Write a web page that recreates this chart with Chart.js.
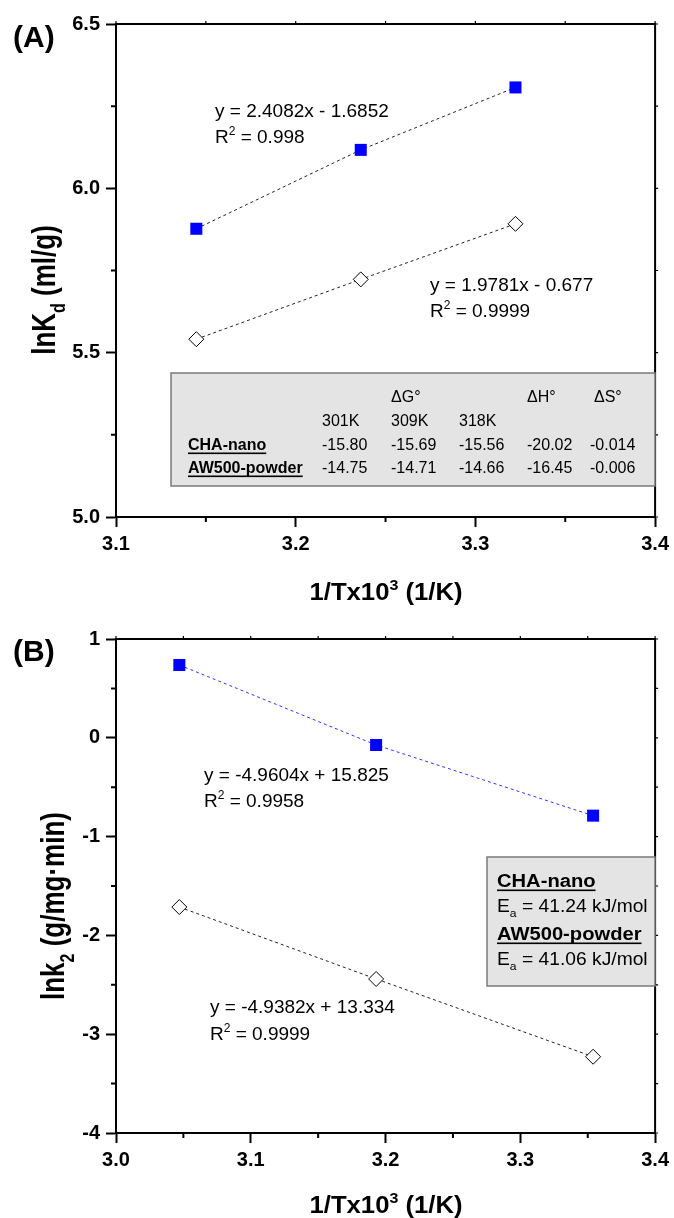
<!DOCTYPE html>
<html lang="en">
<head>
<meta charset="UTF-8" />
<title>lnKd / lnk2 vs 1/T</title>
<script src="https://cdn.jsdelivr.net/npm/chart.js"></script>
<style>
  body { margin: 0; background: #fff; }
  .panel { position: absolute; left: 0; width: 674px; height: 609px; }
  #panelA { top: 0; }
  #panelB { top: 609px; }
</style>
</head>
<body>
<div class="panel" id="panelA"><canvas id="graficoA"></canvas></div>
<div class="panel" id="panelB"><canvas id="graficoB"></canvas></div>

<script>
  // (A) lnKd against 1/T x 10^3
  const invTA = [3.1447, 3.2362, 3.3223];
  const lnKdCha = [5.877, 6.117, 6.307];
  const lnKdAw = [5.541, 5.723, 5.892];
  const xTicksA = [3.1, 3.2, 3.3, 3.4];
  const xMinorA = [3.15, 3.25, 3.35];
  const yTicksA = [5.0, 5.5, 6.0, 6.5];
  const yMinorA = [5.25, 5.75, 6.25];

  // (B) lnk2 against 1/T x 10^3
  const invTB = [3.047, 3.193, 3.354];
  const lnk2Cha = [0.737, -0.073, -0.788];
  const lnk2Aw = [-1.713, -2.441, -3.228];
  const xTicksB = [3.0, 3.1, 3.2, 3.3, 3.4];
  const xMinorB = [3.05, 3.15, 3.25, 3.35];
  const yTicksB = [-4, -3, -2, -1, 0, 1];
  const yMinorB = [-3.5, -2.5, -1.5, -0.5, 0.5];

  // fit equations and tables
  const fitA = [['y = 2.4082x - 1.6852', '0.998'], ['y = 1.9781x - 0.677', '0.9999']];
  const fitB = [['y = -4.9604x + 15.825', '0.9958'], ['y = -4.9382x + 13.334', '0.9999']];
  const tempCols = ['301K', '309K', '318K'];
  const thermoRows = [
    ['CHA-nano', '-15.80', '-15.69', '-15.56', '-20.02', '-0.014'],
    ['AW500-powder', '-14.75', '-14.71', '-14.66', '-16.45', '-0.006']
  ];
  const eaRows = [['CHA-nano', '41.24'], ['AW500-powder', '41.06']];

  const FAM = '"Liberation Sans", Arial, sans-serif';

  // text with sub/superscripts, optional stretch and rotation
  function rich(ctx, x, y, parts, o) {
    const w = o.bold ? 'bold ' : '';
    const fontOf = k => w + (k ? Math.round(o.size * 0.62) : o.size) + 'px ' + FAM;
    ctx.save();
    ctx.translate(x, y);
    if (o.rot) ctx.rotate(o.rot);
    ctx.scale(o.sx || 1, o.sy || 1);
    ctx.fillStyle = '#000';
    ctx.textAlign = 'left';
    ctx.textBaseline = 'alphabetic';
    let total = 0;
    parts.forEach(([t, k]) => { ctx.font = fontOf(k); total += ctx.measureText(t).width; });
    let cx = o.center ? -total / 2 : 0;
    parts.forEach(([t, k]) => {
      ctx.font = fontOf(k);
      const dy = k === 'sup' ? -o.size * 0.42 : k === 'sub' ? o.size * 0.3 : 0;
      ctx.fillText(t, cx, dy);
      const tw = ctx.measureText(t).width;
      if (o.underline) ctx.fillRect(cx, 2.5, tw, 1.6);
      cx += tw;
    });
    ctx.restore();
  }

  function frameAndTicks(chart, xMinor, yMinor, xMajor, yMajor) {
    const { ctx, chartArea: a, scales: { x, y } } = chart;
    ctx.save();
    ctx.strokeStyle = '#000';
    ctx.lineWidth = 2;
    ctx.beginPath();
    ctx.moveTo(a.left, a.top); ctx.lineTo(a.right, a.top); ctx.lineTo(a.right, a.bottom);
    ctx.stroke();
    ctx.beginPath();
    xMinor.forEach(v => { const p = x.getPixelForValue(v); ctx.moveTo(p, a.bottom); ctx.lineTo(p, a.bottom + 5); });
    yMinor.forEach(v => { const p = y.getPixelForValue(v); ctx.moveTo(a.left, p); ctx.lineTo(a.left - 5, p); });
    ctx.stroke();
    ctx.lineWidth = 1.2;
    ctx.beginPath();
    xMajor.concat(xMinor).forEach(v => { const p = x.getPixelForValue(v); ctx.moveTo(p, a.top); ctx.lineTo(p, a.top - 3); });
    yMajor.concat(yMinor).forEach(v => { const p = y.getPixelForValue(v); ctx.moveTo(a.right, p); ctx.lineTo(a.right + 3, p); });
    ctx.stroke();
    ctx.restore();
  }

  function box(ctx, x, y, w, h) {
    ctx.save();
    ctx.fillStyle = '#e4e4e4';
    ctx.strokeStyle = '#7a7a7a';
    ctx.lineWidth = 1.5;
    ctx.fillRect(x, y, w, h);
    ctx.strokeRect(x, y, w, h);
    ctx.restore();
  }

  function axisOpts(min, max, ticks, fmt, isX, size) {
    return {
      type: 'linear', min, max,
      afterBuildTicks: s => { s.ticks = ticks.map(v => ({ value: v })); },
      afterFit: s => { if (isX) s.height = size; else s.width = size; },
      grid: { display: true, drawOnChartArea: false, drawTicks: true, tickLength: 10, tickWidth: 2, tickColor: '#000' },
      border: { display: true, color: '#000', width: 2 },
      ticks: {
        color: '#000', autoSkip: false, maxRotation: 0, padding: isX ? 5 : 6,
        font: { family: FAM, size: 20, weight: 'bold' },
        callback: fmt
      }
    };
  }

  const fixed1 = v => Number(v).toFixed(1);
  const plain = v => String(Math.round(v));

  const diamond = { pointStyle: 'rectRot', pointRadius: 7.5, pointBackgroundColor: '#fff', pointBorderColor: '#000', pointBorderWidth: 1 };
  const square = { pointStyle: 'rect', pointRadius: 8.5, pointBackgroundColor: '#0000ff', pointBorderColor: '#0000ff', pointBorderWidth: 0 };

  const baseOpts = {
    responsive: true, maintainAspectRatio: false, animation: false,
    plugins: { legend: { display: false }, tooltip: { enabled: false } }
  };

  // ---------- panel A ----------
  const decorA = {
    id: 'decorA',
    afterDraw(chart) {
      const ctx = chart.ctx;
      frameAndTicks(chart, xMinorA, yMinorA, xTicksA, yTicksA);
      rich(ctx, 13, 47, [['(A)', '']], { size: 30, bold: true });
      rich(ctx, 55, 290, [['lnK', ''], ['d', 'sub'], [' (ml/g)', '']], { size: 26, bold: true, rot: -Math.PI / 2, center: true, sy: 1.25 });
      rich(ctx, 386, 600, [['1/Tx10', ''], ['3', 'sup'], [' (1/K)', '']], { size: 24, bold: true, center: true, sx: 1.07 });
      rich(ctx, 215, 117, [[fitA[0][0], '']], { size: 19 });
      rich(ctx, 215, 143, [['R', ''], ['2', 'sup'], [' = ' + fitA[0][1], '']], { size: 19 });
      rich(ctx, 430, 291, [[fitA[1][0], '']], { size: 19 });
      rich(ctx, 430, 317, [['R', ''], ['2', 'sup'], [' = ' + fitA[1][1], '']], { size: 19 });

      box(ctx, 171, 373, 484, 113);
      const cols = [322, 391, 459, 527, 590];
      rich(ctx, 391, 402, [['\u0394G\u00b0', '']], { size: 16 });
      rich(ctx, 527, 402, [['\u0394H\u00b0', '']], { size: 16 });
      rich(ctx, 594, 402, [['\u0394S\u00b0', '']], { size: 16 });
      tempCols.forEach((t, i) => rich(ctx, cols[i], 426, [[t, '']], { size: 16 }));
      thermoRows.forEach((row, r) => {
        const yy = 450 + r * 23;
        rich(ctx, 188, yy, [[row[0], '']], { size: 16, bold: true, underline: true });
        row.slice(1).forEach((v, i) => rich(ctx, cols[i], yy, [[v, '']], { size: 16 }));
      });
    }
  };

  new Chart(document.getElementById('graficoA'), {
    type: 'scatter',
    data: {
      datasets: [
        Object.assign({ label: 'CHA-nano', data: invTA.map((x, i) => ({ x, y: lnKdCha[i] })), showLine: true,
          borderColor: '#222', borderWidth: 1, borderDash: [3, 3] }, square),
        Object.assign({ label: 'AW500-powder', data: invTA.map((x, i) => ({ x, y: lnKdAw[i] })), showLine: true,
          borderColor: '#222', borderWidth: 1, borderDash: [3, 3] }, diamond)
      ]
    },
    options: Object.assign({}, baseOpts, {
      layout: { padding: { top: 24, right: 18, bottom: 0, left: 0 } },
      scales: {
        x: axisOpts(3.1, 3.4, xTicksA, fixed1, true, 92),
        y: axisOpts(5.0, 6.5, yTicksA, fixed1, false, 116)
      }
    }),
    plugins: [decorA]
  });

  // ---------- panel B ----------
  const decorB = {
    id: 'decorB',
    afterDraw(chart) {
      const ctx = chart.ctx;
      frameAndTicks(chart, xMinorB, yMinorB, xTicksB, yTicksB);
      rich(ctx, 13, 52, [['(B)', '']], { size: 30, bold: true });
      rich(ctx, 64, 297, [['lnk', ''], ['2', 'sub'], [' (g/mg\u00b7min)', '']], { size: 26, bold: true, rot: -Math.PI / 2, center: true, sy: 1.25 });
      rich(ctx, 386, 604, [['1/Tx10', ''], ['3', 'sup'], [' (1/K)', '']], { size: 24, bold: true, center: true, sx: 1.07 });
      rich(ctx, 204, 172, [[fitB[0][0], '']], { size: 19 });
      rich(ctx, 204, 198, [['R', ''], ['2', 'sup'], [' = ' + fitB[0][1], '']], { size: 19 });
      rich(ctx, 210, 404, [[fitB[1][0], '']], { size: 19 });
      rich(ctx, 210, 431, [['R', ''], ['2', 'sup'], [' = ' + fitB[1][1], '']], { size: 19 });

      box(ctx, 487, 248, 168, 129);
      eaRows.forEach((row, r) => {
        const yy = 278 + r * 53;
        rich(ctx, 497, yy, [[row[0], '']], { size: 18, bold: true, underline: true, sx: 1.12 });
        rich(ctx, 497, yy + 25, [['E', ''], ['a', 'sub'], [' = ' + row[1] + ' kJ/mol', '']], { size: 17.5, sx: 1.1 });
      });
    }
  };

  new Chart(document.getElementById('graficoB'), {
    type: 'scatter',
    data: {
      datasets: [
        Object.assign({ label: 'CHA-nano', data: invTB.map((x, i) => ({ x, y: lnk2Cha[i] })), showLine: true,
          borderColor: '#3333ff', borderWidth: 1, borderDash: [3, 3] }, square),
        Object.assign({ label: 'AW500-powder', data: invTB.map((x, i) => ({ x, y: lnk2Aw[i] })), showLine: true,
          borderColor: '#222', borderWidth: 1, borderDash: [3, 3] }, diamond)
      ]
    },
    options: Object.assign({}, baseOpts, {
      layout: { padding: { top: 30, right: 18, bottom: 0, left: 0 } },
      scales: {
        x: axisOpts(3.0, 3.4, xTicksB, fixed1, true, 85),
        y: axisOpts(-4, 1, yTicksB, plain, false, 116)
      }
    }),
    plugins: [decorB]
  });
</script>
</body>
</html>
